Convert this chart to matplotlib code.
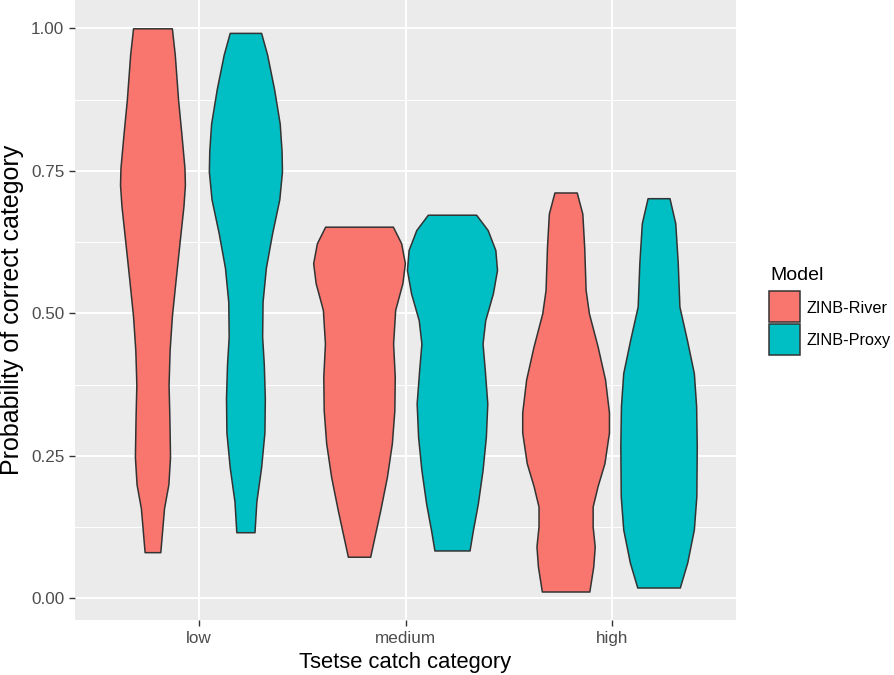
import numpy as np
import matplotlib
matplotlib.use('Agg')
import matplotlib.pyplot as plt
from matplotlib.patches import Rectangle
from matplotlib.ticker import MultipleLocator, FormatStrFormatter

plt.rcParams['font.family'] = ['Liberation Sans', 'DejaVu Sans']

categories = ['low', 'medium', 'high']
models = ['ZINB-River', 'ZINB-Proxy']
colours = ['#F8766D', '#00BFC4']

# violin outlines: probability level, half width (category units)
low_river_y = [1.0, 0.954, 0.875, 0.815, 0.755, 0.725, 0.688, 0.634, 0.562, 0.495,
               0.435, 0.375, 0.315, 0.248, 0.200, 0.158, 0.081]
low_river_w = [0.094, 0.108, 0.124, 0.140, 0.155, 0.157, 0.150, 0.134, 0.113, 0.094,
               0.083, 0.078, 0.082, 0.085, 0.077, 0.056, 0.038]

low_proxy_y = [0.992, 0.954, 0.893, 0.833, 0.785, 0.749, 0.700, 0.640, 0.580, 0.520,
               0.459, 0.411, 0.351, 0.291, 0.230, 0.170, 0.116]
low_proxy_w = [0.076, 0.105, 0.139, 0.166, 0.175, 0.177, 0.164, 0.129, 0.099, 0.083,
               0.081, 0.089, 0.094, 0.092, 0.076, 0.053, 0.044]

medium_river_y = [0.652, 0.623, 0.588, 0.553, 0.506, 0.447, 0.389, 0.330, 0.272, 0.213,
                  0.155, 0.073]
medium_river_w = [0.164, 0.204, 0.222, 0.210, 0.175, 0.165, 0.173, 0.171, 0.159, 0.135,
                  0.103, 0.054]

medium_proxy_y = [0.673, 0.646, 0.611, 0.576, 0.535, 0.488, 0.447, 0.400, 0.342, 0.283,
                  0.225, 0.166, 0.119, 0.084]
medium_proxy_w = [0.117, 0.173, 0.210, 0.218, 0.198, 0.161, 0.148, 0.159, 0.171, 0.164,
                  0.148, 0.125, 0.101, 0.085]

high_river_y = [0.712, 0.675, 0.617, 0.541, 0.500, 0.442, 0.384, 0.326, 0.291, 0.237,
                0.197, 0.161, 0.126, 0.091, 0.056, 0.012]
high_river_w = [0.054, 0.081, 0.090, 0.097, 0.113, 0.155, 0.191, 0.210, 0.210, 0.188,
                0.155, 0.131, 0.131, 0.141, 0.134, 0.115]

high_proxy_y = [0.702, 0.658, 0.588, 0.512, 0.454, 0.395, 0.337, 0.267, 0.179, 0.121,
                0.063, 0.019]
high_proxy_w = [0.053, 0.081, 0.093, 0.101, 0.137, 0.171, 0.182, 0.185, 0.183, 0.171,
                0.139, 0.103]

violins = [
    (0, 0, low_river_y, low_river_w),
    (0, 1, low_proxy_y, low_proxy_w),
    (1, 0, medium_river_y, medium_river_w),
    (1, 1, medium_proxy_y, medium_proxy_w),
    (2, 0, high_river_y, high_river_w),
    (2, 1, high_proxy_y, high_proxy_w),
]

W, H = 894, 675
fig = plt.figure(figsize=(W / 100, H / 100), dpi=100)
ax = fig.add_axes([75 / W, 55 / H, 661 / W, 620 / H])
ax.set_facecolor('#EBEBEB')
ax.set_axisbelow(True)
for s in ax.spines.values():
    s.set_visible(False)

dodge = 0.45
for ci, mi, ys, ws in violins:
    pos = ci + 1 + (mi - 0.5) * dodge
    ys = np.array(ys)
    ws = np.array(ws)
    pc = ax.fill_betweenx(ys, pos - ws, pos + ws, facecolor=colours[mi],
                          edgecolor='#333333', linewidth=1.1, zorder=3)
    pc.set_joinstyle('round')

ax.set_xlim(0.4, 3.6)
ax.set_ylim(-0.038, 1.0497)
ax.set_xticks([1, 2, 3], categories)
ax.set_yticks([0, 0.25, 0.5, 0.75, 1.0])
ax.yaxis.set_major_formatter(FormatStrFormatter('%.2f'))
ax.yaxis.set_minor_locator(MultipleLocator(0.125))
ax.grid(which='major', color='white', linewidth=1.4)
ax.grid(which='minor', axis='y', color='white', linewidth=0.7)
ax.tick_params(which='major', length=4.3, width=1.0, color='#333333',
               labelcolor='#4D4D4D', labelsize=12.3, pad=3.5)
ax.tick_params(which='minor', length=0)

ax.set_xlabel('Tsetse catch category', fontsize=15.8, labelpad=4.5)
ax.set_ylabel('Probability of correct category', fontsize=18, labelpad=5)

# legend drawn by hand, ggplot style
def fx(px):
    return px / W

def fy(py):
    return 1 - py / H

fig.text(fx(770), fy(280), 'Model', fontsize=14, va='baseline', ha='left')
label_base = [313.3, 344.5]
for i, m in enumerate(models):
    top = 291 + i * 33
    fig.add_artist(Rectangle((fx(769), fy(top + 31)), 31 / W, 31 / H,
                             transform=fig.transFigure, facecolor=colours[i],
                             edgecolor='#333333', linewidth=1.1))
    fig.text(fx(806.5), fy(label_base[i]), m, fontsize=11.7, va='baseline', ha='left')

fig.savefig('out.png', dpi=100)
